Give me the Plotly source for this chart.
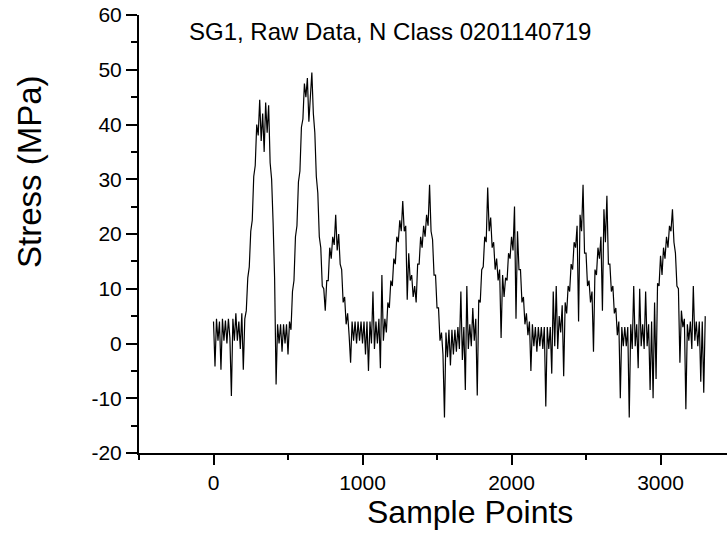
import plotly.graph_objects as go

# Sample index step of 10 between readings
sample_step = 10

stress_mpa = [
    # 0-190
    4.0, -4.2, 4.5, 0.5, 4.0, -4.8, 4.5, 0.5, 4.2, 0.0, 4.5, 1.0, -9.6, 4.5, 0.5, 5.5, 0.5, 4.0, -1.0, 5.5,
    # 200-390
    -4.8, 4.5, 6.0, 12.0, 14.0, 20.5, 22.5, 30.5, 32.5, 40.0, 38.0, 44.5, 37.0, 42.0, 35.0, 44.0, 38.5, 43.5, 33.0, 30.0,
    # 400-590
    22.0, 12.0, -7.5, 3.5, 0.0, 3.5, -1.5, 3.5, 0.0, 3.5, -2.0, 4.0, 2.5, 9.5, 11.5, 19.5, 21.5, 29.5, 31.5, 39.5,
    # 600-790
    41.0, 47.5, 45.0, 48.5, 40.5, 46.0, 49.5, 42.0, 38.5, 30.5, 27.5, 19.5, 17.5, 10.5, 10.0, 6.0, 11.5, 11.5, 17.5, 15.5,
    # 800-990
    19.5, 18.0, 23.5, 17.0, 20.0, 14.5, 13.5, 7.5, 8.5, 3.5, 5.5, 1.5, -3.5, 4.0, 0.5, 4.0, 0.0, 4.0, 0.5, 4.0,
    # 1000-1190
    0.0, 4.0, -2.0, 4.0, -5.0, 4.0, 0.0, 9.5, -1.0, 4.0, 0.0, 4.5, -4.5, 12.5, 0.5, 4.5, 2.0, 7.5, 6.5, 11.5,
    # 1200-1390
    10.5, 15.5, 14.5, 19.5, 18.5, 22.5, 20.5, 26.0, 20.5, 21.5, 8.0, 16.5, 11.5, 12.5, 8.5, 10.5, 7.5, 14.5, 14.5, 19.5,
    # 1400-1590
    17.5, 21.5, 19.5, 23.5, 21.5, 29.0, 20.5, 19.0, 12.5, 12.5, 6.5, 6.5, 0.5, 2.0, -2.0, -13.5, 2.0, -2.5, 2.5, -4.0,
    # 1600-1790
    2.5, -2.0, 2.5, -1.5, 3.0, -1.0, 9.5, -3.0, 3.0, -8.5, 10.5, -1.0, 3.5, -0.5, 6.5, 0.5, 4.5, -9.5, 8.0, 7.5,
    # 1800-1990
    13.5, 14.0, 19.5, 18.5, 28.5, 20.5, 23.0, 17.5, 18.5, 13.5, 15.5, 11.5, 13.5, 1.0, 12.5, 8.5, 12.0, 11.5, 16.5, 15.5,
    # 2000-2190
    19.5, 17.0, 25.0, 4.5, 20.5, 13.5, 13.5, 7.5, 8.5, 3.5, 5.5, 1.5, 4.0, -5.0, 3.5, -0.5, 3.0, -1.5, 3.0, -0.5,
    # 2200-2390
    3.0, -1.0, 3.0, -11.5, 3.0, -1.0, 3.0, -5.5, 9.5, -0.5, 10.5, -1.0, 5.0, 2.0, 7.0, -6.0, 7.5, 5.5, 10.5, 9.5,
    # 2400-2590
    14.5, 13.5, 18.5, 17.5, 21.5, 4.0, 23.5, 20.5, 29.0, 16.5, 16.5, 10.5, 11.5, 7.5, 9.5, -1.5, 13.5, 12.5, 17.5, 15.5,
    # 2600-2790
    19.5, 6.0, 24.5, 18.5, 27.0, 14.5, 14.5, 9.5, 10.5, 5.5, 6.5, 1.5, 4.0, -10.0, 3.0, -0.5, 3.0, -0.5, 3.0, -13.5,
    # 2800-2990
    3.5, -1.0, 10.5, -0.5, 3.5, -4.5, 10.0, -0.5, 3.5, -1.0, 9.5, -0.5, 3.5, -8.5, 4.0, -10.0, 7.5, -6.5, 11.0, 10.5,
    # 3000-3190
    16.0, 12.5, 17.5, 15.5, 19.5, 17.5, 21.5, 20.5, 24.5, 18.5, 16.5, 10.5, 10.0, -3.5, 6.0, 3.0, 4.5, -12.0, 3.5, 0.5,
    # 3200-3300
    4.0, -1.0, 10.5, 0.5, 4.0, -0.5, 4.0, -7.0, 4.0, -9.0, 5.0,
]
sample_points = [i * sample_step for i in range(len(stress_mpa))]

x_tick_vals = [0, 1000, 2000, 3000]
x_tick_text = ["0", "1000", "2000", "3000"]
y_tick_vals = [-20, -10, 0, 10, 20, 30, 40, 50, 60]
y_tick_text = ["-20", "-10", "0", "10", "20", "30", "40", "50", "60"]

title_text = "SG1, Raw Data, N Class 0201140719"
x_title = "Sample Points"
y_title = "Stress (MPa)"

FONT = "Liberation Sans, Arial, sans-serif"

fig = go.Figure()
fig.add_trace(go.Scatter(
    x=sample_points, y=stress_mpa, mode="lines",
    line=dict(color="black", width=1.2),
    showlegend=False, hoverinfo="skip",
))

fig.update_layout(
    width=727, height=544,
    margin=dict(l=139, r=0, t=15, b=91),
    paper_bgcolor="white", plot_bgcolor="white",
    font=dict(family=FONT, color="black"),
    annotations=[
        dict(text=title_text, xref="paper", yref="paper", x=(389.5 - 139) / 588, y=(453 - 32) / 438,
             xanchor="center", yanchor="middle", showarrow=False, font=dict(size=24, family=FONT, color="black")),
        dict(text=x_title, xref="paper", yref="paper", x=(470 - 139) / 588, y=(453 - 512) / 438,
             xanchor="center", yanchor="middle", showarrow=False, font=dict(size=32, family=FONT, color="black")),
        dict(text=y_title, xref="paper", yref="paper", x=(30 - 139) / 588, y=(453 - 172) / 438,
             xanchor="center", yanchor="middle", showarrow=False, textangle=-90,
             font=dict(size=33, family=FONT, color="black")),
    ],
)
fig.update_xaxes(
    range=[-500, 3446], showgrid=False, zeroline=False,
    showline=True, linecolor="black", linewidth=2,
    tickmode="array", tickvals=x_tick_vals, ticktext=x_tick_text,
    ticks="outside", ticklen=10, tickwidth=2, tickcolor="black",
    tickfont=dict(size=21, family=FONT, color="black"),
    minor=dict(dtick=500, tick0=0, ticks="outside", ticklen=5, tickwidth=2, tickcolor="black", showgrid=False),
)
fig.update_yaxes(
    range=[-20, 60], showgrid=False, zeroline=False,
    showline=True, linecolor="black", linewidth=2,
    tickmode="array", tickvals=y_tick_vals, ticktext=y_tick_text,
    ticks="outside", ticklen=11, tickwidth=2, tickcolor="black",
    tickfont=dict(size=21, family=FONT, color="black"),
    minor=dict(dtick=5, tick0=0, ticks="outside", ticklen=6, tickwidth=2, tickcolor="black", showgrid=False),
)

fig.write_html("out.html")
